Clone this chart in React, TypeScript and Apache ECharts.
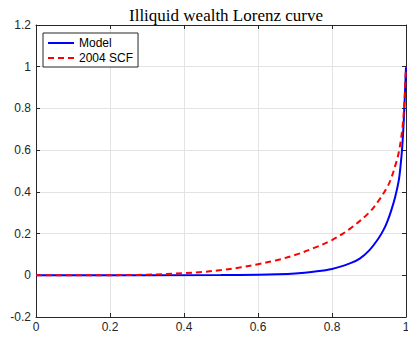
import React, { useEffect, useRef } from "react";
import * as echarts from "echarts";

// Population share (x) and cumulative illiquid wealth share (y)
const modelX = [0, 0.5, 0.6, 0.65, 0.7, 0.75, 0.8, 0.85, 0.875, 0.9, 0.925, 0.94, 0.95, 0.96, 0.97, 0.98, 0.985, 0.99, 0.995, 1];
const modelY = [0, 0.001, 0.003, 0.005, 0.009, 0.017, 0.03, 0.058, 0.08, 0.118, 0.175, 0.22, 0.26, 0.31, 0.37, 0.45, 0.52, 0.62, 0.78, 1.0];

const scfX = [0, 0.25, 0.3, 0.35, 0.4, 0.45, 0.5, 0.55, 0.6, 0.65, 0.7, 0.75, 0.8, 0.85, 0.9, 0.925, 0.95, 0.96, 0.97, 0.98, 0.99, 0.995, 1];
const scfY = [0, 0.001, 0.003, 0.006, 0.01, 0.016, 0.025, 0.037, 0.053, 0.072, 0.097, 0.13, 0.169, 0.225, 0.3, 0.355, 0.425, 0.465, 0.52, 0.585, 0.7, 0.81, 1.0];

const seriesNames = ["Model", "2004 SCF"];
const titleText = "Illiquid wealth Lorenz curve";

const xTicks = { min: 0, max: 1, interval: 0.2 };
const yTicks = { min: -0.2, max: 1.2, interval: 0.2 };

const fmt = (v: number) => String(Number(v.toFixed(1)));

export default function App() {
  const ref = useRef<HTMLDivElement>(null);

  useEffect(() => {
    if (!ref.current) return;
    const chart = echarts.init(ref.current, undefined, { renderer: "svg", width: 408, height: 337 });
    const axisColor = "#262626";
    const labelFont = { fontFamily: "Liberation Sans", fontSize: 12, color: "#262626" };

    const baseX = {
      type: "value" as const,
      ...xTicks,
      axisLine: { show: true, onZero: false, lineStyle: { color: axisColor, width: 1 } },
      axisTick: { show: true, inside: true, length: 4, lineStyle: { color: axisColor } },
    };
    const baseY = {
      type: "value" as const,
      ...yTicks,
      axisLine: { show: true, onZero: false, lineStyle: { color: axisColor, width: 1 } },
      axisTick: { show: true, inside: true, length: 4, lineStyle: { color: axisColor } },
    };

    chart.setOption({
      animation: false,
      backgroundColor: "#ffffff",
      title: {
        text: titleText,
        left: 221,
        textAlign: "center",
        top: 2,
        textStyle: { fontFamily: "Liberation Serif", fontWeight: "normal", fontSize: 17, color: "#000" },
      },
      legend: {
        left: 43,
        top: 33,
        orient: "vertical",
        itemWidth: 26,
        itemHeight: 10,
        itemGap: 3,
        padding: [4, 5, 3, 4],
        borderColor: "#262626",
        borderWidth: 1,
        backgroundColor: "#ffffff",
        itemStyle: { opacity: 0 },
        textStyle: { fontFamily: "Liberation Sans", fontSize: 12, color: "#000" },
        data: seriesNames,
      },
      grid: { left: 36, right: 2, top: 25, bottom: 20, containLabel: false, outerBoundsMode: "none" },
      xAxis: [
        {
          ...baseX,
          position: "bottom",
          axisLabel: { ...labelFont, margin: 4, formatter: fmt },
          splitLine: { show: true, lineStyle: { color: "#e3e3e3", width: 1 } },
        },
        {
          ...baseX,
          position: "top",
          axisLabel: { show: false },
          splitLine: { show: false },
        },
      ],
      yAxis: [
        {
          ...baseY,
          position: "left",
          axisLabel: { ...labelFont, margin: 5, formatter: fmt },
          splitLine: { show: true, lineStyle: { color: "#e3e3e3", width: 1 } },
        },
        {
          ...baseY,
          position: "right",
          axisLabel: { show: false },
          splitLine: { show: false },
        },
      ],
      series: [
        {
          name: seriesNames[0],
          type: "line",
          symbol: "none",
          smooth: 0.35,
          z: 3,
          lineStyle: { color: "#0000ff", width: 2 },
          itemStyle: { color: "#0000ff" },
          data: modelX.map((x, i) => [x, modelY[i]]),
        },
        {
          name: seriesNames[1],
          type: "line",
          symbol: "none",
          smooth: 0.35,
          z: 4,
          lineStyle: { color: "#ff0000", width: 2, type: [6, 4] },
          itemStyle: { color: "#ff0000" },
          data: scfX.map((x, i) => [x, scfY[i]]),
        },
      ],
    });
    return () => chart.dispose();
  }, []);

  return (
    <div
      ref={ref}
      style={{ position: "absolute", left: 0, top: 0, width: 408, height: 337 }}
    />
  );
}
